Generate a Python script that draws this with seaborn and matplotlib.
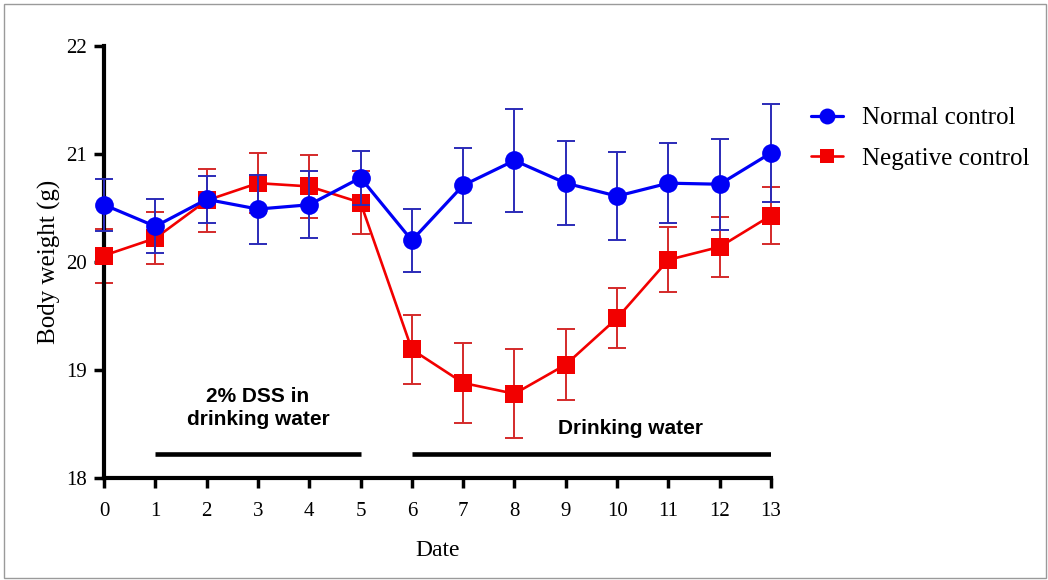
import matplotlib
matplotlib.use("Agg")
import matplotlib.pyplot as plt
from matplotlib.patches import Rectangle
import seaborn as sns
import pandas as pd
import numpy as np

# ---- data ----
days = list(range(14))
normal_mean = [20.53, 20.33, 20.58, 20.49, 20.53, 20.78, 20.20, 20.71, 20.94, 20.73, 20.61, 20.73, 20.72, 21.01]
normal_err  = [0.24, 0.25, 0.22, 0.32, 0.31, 0.25, 0.29, 0.35, 0.48, 0.39, 0.41, 0.37, 0.42, 0.45]
neg_mean    = [20.06, 20.22, 20.57, 20.73, 20.70, 20.55, 19.19, 18.88, 18.78, 19.05, 19.48, 20.02, 20.14, 20.43]
neg_err     = [0.25, 0.24, 0.29, 0.28, 0.29, 0.29, 0.32, 0.37, 0.41, 0.33, 0.28, 0.30, 0.28, 0.26]
series_names = ["Normal control", "Negative control"]
period_labels = ["2% DSS in\ndrinking water", "Drinking water"]
period_spans = [(1, 5), (6, 13)]
x_ticks = list(range(14))
y_ticks = [18, 19, 20, 21, 22]

df = pd.DataFrame({
    "Date": days * 2,
    "Body weight (g)": normal_mean + neg_mean,
    "err": normal_err + neg_err,
    "group": [series_names[0]] * len(days) + [series_names[1]] * len(days),
})

sns.set_style("ticks")
plt.rcParams["font.family"] = ["Liberation Serif", "DejaVu Serif"]
plt.rcParams["text.color"] = "black"
plt.rcParams["axes.labelcolor"] = "black"

fig = plt.figure(figsize=(10.48, 5.8), dpi=100)
ax = fig.add_axes([104 / 1048, 102 / 580, 667 / 1048, 432 / 580])

blue = "#0000f5"
blue_err = "#2b2bb8"
red = "#f20000"
red_err = "#d42a2a"

# negative control first (drawn below)
d_neg = df[df["group"] == series_names[1]]
d_nor = df[df["group"] == series_names[0]]

ax.errorbar(d_neg["Date"], d_neg["Body weight (g)"], yerr=d_neg["err"], fmt="none",
            ecolor=red_err, elinewidth=1.4, capsize=6.5, capthick=1.4, zorder=2, clip_on=False)
sns.lineplot(data=d_neg, x="Date", y="Body weight (g)", ax=ax, color=red, marker="s",
             markersize=12.5, markeredgewidth=0, linewidth=1.9, label=series_names[1],
             zorder=3, clip_on=False, errorbar=None)
ax.errorbar(d_nor["Date"], d_nor["Body weight (g)"], yerr=d_nor["err"], fmt="none",
            ecolor=blue_err, elinewidth=1.4, capsize=6.5, capthick=1.4, zorder=4, clip_on=False)
sns.lineplot(data=d_nor, x="Date", y="Body weight (g)", ax=ax, color=blue, marker="o",
             markersize=13.5, markeredgewidth=0, linewidth=2.3, label=series_names[0],
             zorder=5, clip_on=False, errorbar=None)

# period bars and labels
bar_y = 18.22
for (x0, x1) in period_spans:
    ax.plot([x0, x1], [bar_y, bar_y], color="black", linewidth=3.3, solid_capstyle="butt", zorder=1)
ax.text(3.0, 18.645, period_labels[0], ha="center", va="center", fontsize=15, color="black",
        fontweight="bold", family=["Liberation Sans", "DejaVu Sans"], linespacing=1.25)
ax.text(10.27, 18.46, period_labels[1], ha="center", va="center", fontsize=15, color="black",
        fontweight="bold", family=["Liberation Sans", "DejaVu Sans"])

ax.set_xlim(0, 13)
ax.set_ylim(18, 22)
ax.set_xticks(x_ticks)
ax.set_yticks(y_ticks)
ax.set_xlabel("Date", fontsize=17, labelpad=14)
ax.set_ylabel("Body weight (g)", fontsize=18, labelpad=4)
sns.despine(ax=ax)
for s in ["left", "bottom"]:
    ax.spines[s].set_linewidth(3)
    ax.spines[s].set_color("black")
ax.tick_params(axis="both", direction="out", length=7, width=2.5, labelsize=15, colors="black")
ax.tick_params(axis="x", pad=10)
ax.tick_params(axis="y", pad=5)

handles, labels = ax.get_legend_handles_labels()
order = [labels.index(series_names[0]), labels.index(series_names[1])]
ax.legend([handles[i] for i in order], [labels[i] for i in order],
          loc="center left", bbox_to_anchor=(788 / 1048, 1 - 138.5 / 580),
          bbox_transform=fig.transFigure, frameon=False, fontsize=18,
          handlelength=1.3, handletextpad=0.75, labelspacing=0.72, markerscale=0.85)

fig.patches.append(Rectangle((4 / 1048, 2 / 580), 1042 / 1048, 574 / 580, transform=fig.transFigure,
                             fill=False, edgecolor="#9a9a9a", linewidth=1))

fig.savefig("out.png", dpi=100, facecolor="white")
